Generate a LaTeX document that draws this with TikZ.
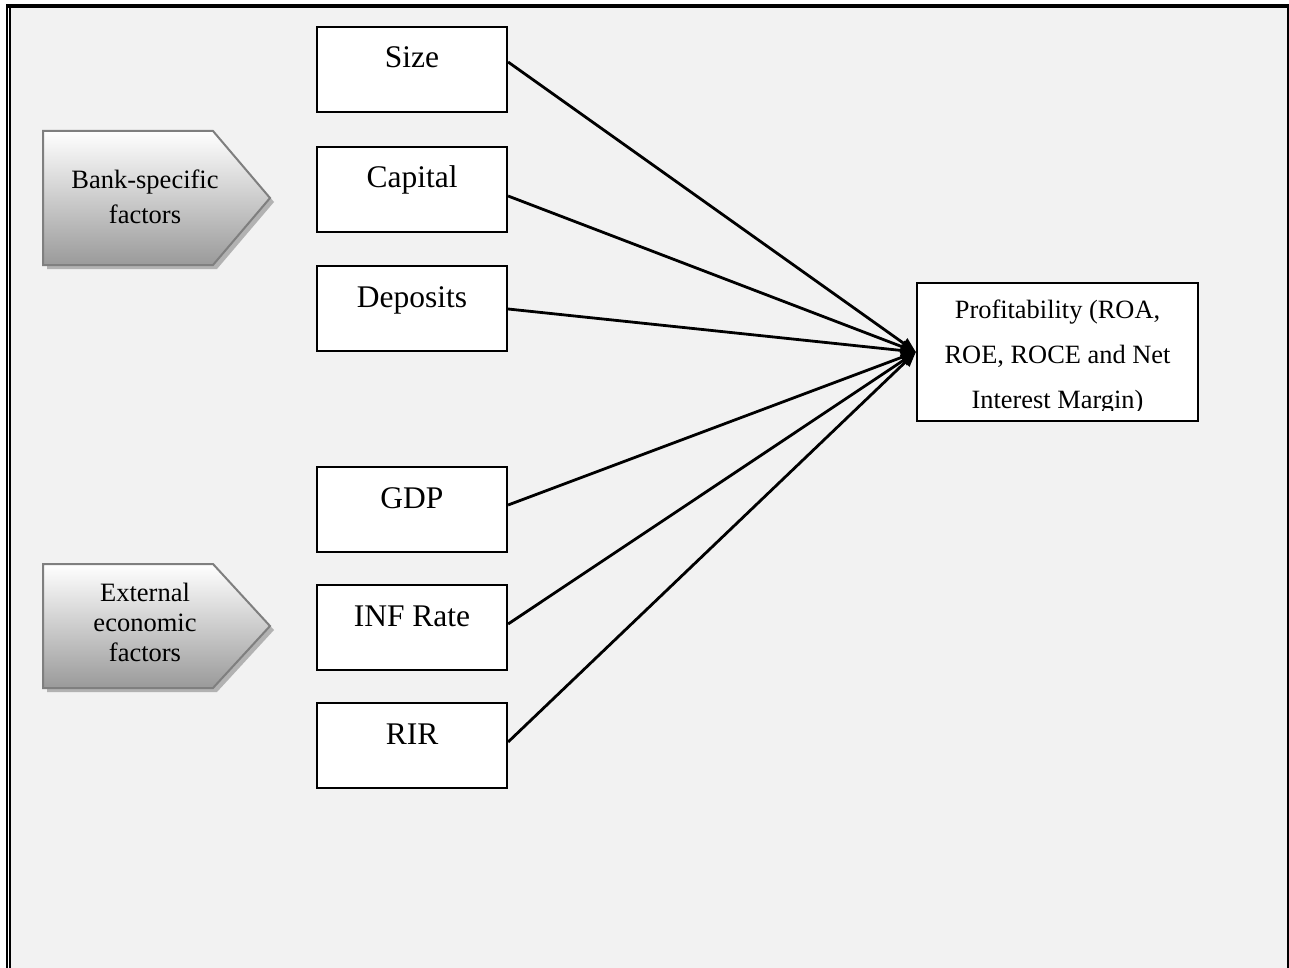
\documentclass[tikz,border=0pt]{standalone}
\usepackage{fontspec}
\setmainfont{Liberation Serif}
\usetikzlibrary{arrows.meta}
\definecolor{bg}{HTML}{F2F2F2}
\definecolor{chevborder}{HTML}{7F7F7F}
\definecolor{chevshade}{HTML}{9A9A9A}
\begin{document}
\begin{tikzpicture}[x=1pt,y=-1pt,
  factor/.style={draw=black, line width=2.2pt, fill=white, minimum width=190pt, minimum height=85pt,
    inner sep=0pt, text height=20pt, text depth=23pt, font=\fontsize{31.5}{36}\selectfont},
  link/.style={line width=2.8pt, -{Triangle[length=15pt,width=12pt]}},
  chev/.style={draw=chevborder, line width=2pt, top color=white, bottom color=chevshade},
  chevtext/.style={align=center, inner sep=0pt}
]
\useasboundingbox (0,0) rectangle (1289,968);
% frame and background
\fill[bg] (11,8) rectangle (1287,968);
\fill[black] (6,4) rectangle (1289,8);
\fill[black] (6,4) rectangle (8,968);
\fill[black] (9,8) rectangle (11,968);
\fill[black] (1287,4) rectangle (1289,968);

% chevrons
\fill[black!30] (47,135) -- (217,135) -- (274,202) -- (217,269) -- (47,269) -- cycle;
\path[chev] (43,131) -- (213,131) -- (270,198) -- (213,265) -- (43,265) -- cycle;
\node[chevtext, font=\fontsize{26.5}{35}\selectfont] (bank) at (145,196.5) {Bank-specific\\factors};

\fill[black!30] (47,568) -- (217,568) -- (274,630) -- (217,692) -- (47,692) -- cycle;
\path[chev] (43,564) -- (213,564) -- (270,626) -- (213,688) -- (43,688) -- cycle;
\node[chevtext, font=\fontsize{26.5}{30}\selectfont] (ext) at (145,622) {External\\economic\\factors};

% factor boxes
\node[factor] (size) at (412,69.5) {Size};
\node[factor] (capital) at (412,189.5) {Capital};
\node[factor] (deposits) at (412,308.5) {Deposits};
\node[factor] (gdp) at (412,509.5) {GDP};
\node[factor] (inf) at (412,627.5) {INF Rate};
\node[factor] (rir) at (412,745.5) {RIR};

% profitability box
\node[draw=black, line width=2.2pt, fill=white, minimum width=281pt, minimum height=138pt, inner sep=0pt] (prof) at (1057.5,352) {};
\begin{scope}
\clip (918,284) rectangle (1197,410);
\node[anchor=north, inner sep=0pt, align=center, font=\fontsize{26.4}{45}\selectfont] (proftext) at (1057.5,299.7)
  {Profitability (ROA,\\ROE, ROCE and Net\\Interest Margin)};
\end{scope}

% connectors
\draw[link] ([yshift=7.5pt]size.east) -- (prof.west);
\draw[link] ([yshift=-6.5pt]capital.east) -- (prof.west);
\draw[link] ([yshift=-0.5pt]deposits.east) -- (prof.west);
\draw[link] ([yshift=4.5pt]gdp.east) -- (prof.west);
\draw[link] ([yshift=3.5pt]inf.east) -- (prof.west);
\draw[link] ([yshift=3.5pt]rir.east) -- (prof.west);
\end{tikzpicture}
\end{document}
